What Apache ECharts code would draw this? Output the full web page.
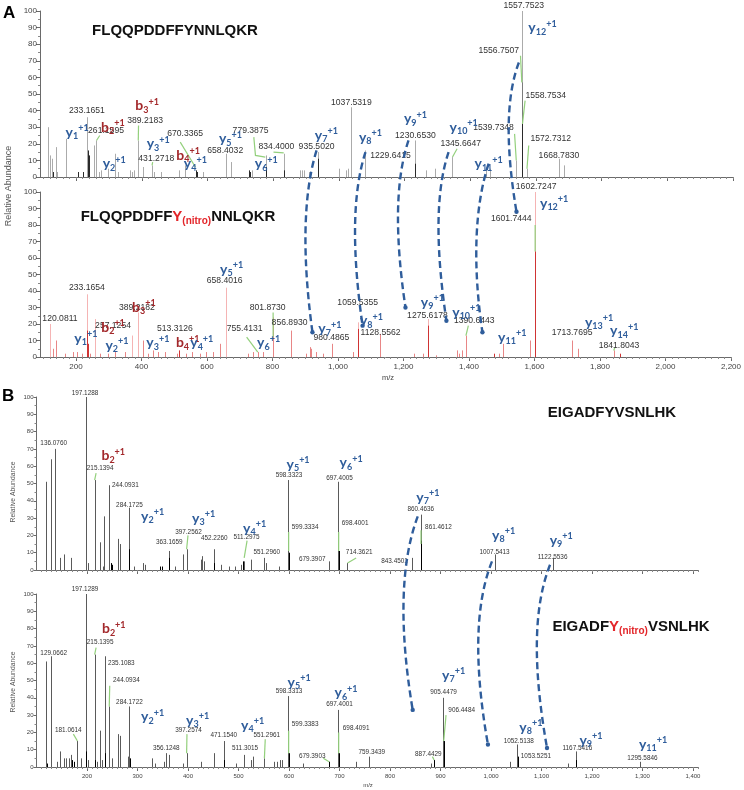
<!DOCTYPE html>
<html><head><meta charset="utf-8">
<script src="https://cdn.jsdelivr.net/npm/echarts@6/dist/echarts.min.js"></script>
<style>html,body{margin:0;padding:0;background:#fff}#c{width:744px;height:790px}</style>
</head><body><div id="c"></div>
<script>
// ---------------- tick labels ----------------
const yTicks = [0,10,20,30,40,50,60,70,80,90,100];
const aXTicks = [200,400,600,800,1000,1200,1400,1600,1800,2000,2200];
const bXTicks = [200,300,400,500,600,700,800,900,1000,1100,1200,1300,1400];
const aRange = [90, 2200];
const bRange = [100, 1410];
const aMinorStep = 20, bMinorStep = 10;

// ---------------- peaks [m/z, relative abundance] ----------------
// Panel A top: FLQQPDDFFYNNLQKR
const aTopLight = [[114,30],[121,13],[126,11],[138,18],[143,3],[170,23],[233.17,36],[253,19],[261.16,22],[270,3],[275,4],[298,5],[319,14],[327,3],[365,4],[370,3],[375,4],[389.22,22],[403,6],[431.27,7],[437,3],[457,3],[513,4],[533,7],[587,3],[655,14],[670.34,9],[727,3],[737,4],[779.39,13],[834.40,14],[883,4],[888,4],[895,4],[908,3],[935.50,15],[1000,5],[1023,4],[1028,5],[1037.53,42],[1081,16],[1230.65,22],[1266,4],[1294,5],[1345.66,12],[1447,4],[1460,5],[1539.73,10],[1557.75,100],[1572.73,5],[1668.78,11],[1686,7]];
const aTopMid = [[1556.75,57]];
const aTopDark = [[129,3],[205,3],[220,3],[236,16],[238,13],[564,4],[567,3],[725,4],[730,3],[778,6],[833,4],[935.5,11],[1230.65,8],[1558.75,32]];
// Panel A bottom: FLQQPDDFFY(nitro)NNLQKR
const aBotLight = [[120.08,20],[233.17,38],[257.13,23],[371,13],[389.22,27],[658.40,42],[1059.54,21],[1275.62,23],[1602.72,100]];
const aBotMid = [[130,5],[139,10],[166,2],[190,3],[204,3],[217,2],[243,2],[273,2],[299,2],[319,3],[350,3],[403,10],[420,2],[436,4],[451,3],[471,3],[507,2],[537,2],[553,3],[578,2],[598,3],[619,3],[639,8],[725,2],[741,3],[755.41,3],[771,3],[801.87,24],[856.89,16],[901,2],[913,6],[918,5],[932,3],[954,2],[980.49,8],[1046,3],[1128.56,14],[1231,2],[1259,2],[1299,1],[1362,4],[1370,2],[1378,4],[1390.64,13],[1491,2],[1504,8],[1585,10],[1713.77,10],[1733,5],[1841.80,4]];
const aBotDark = [[235,16],[237,8],[513.31,4],[1062,17],[1275.62,19],[1476,2],[1601.74,64],[1860,2]];
// Panel B top: EIGADFYVSNLHK
const bTopGray = [[118.6,51],[128,64],[136.08,70],[146,7],[155,9],[168,7],[197.13,100],[201,4],[215.14,52],[225,16],[231,2],[234.5,31],[244.09,49],[262,18],[266,15],[284.17,36],[294,2],[311,4],[315,3],[363.17,11],[375,2],[390,9],[397.26,12],[425,6],[428,8],[431,5],[452.23,12],[466,3],[481,2],[494,2],[504,3],[511.30,5],[524,6],[551.30,7],[555,4],[580,2],[598.33,52],[679.39,5],[697.40,51],[714.36,4],[843.45,7],[860.46,32],[1007.54,9],[1122.55,7]];
const bTopBlack = [[247,4],[250,3],[284.17,12],[345,2],[348,2],[363.17,7],[452.23,4],[509,5],[599.33,10],[698.40,11],[861.46,17]];
// Panel B bottom: EIGADFY(nitro)VSNLHK
const bBotGray = [[118.6,61],[129.07,64],[140,3],[146,9],[154,5],[158,5],[165,5],[168,7],[181.06,15],[188,5],[197.13,100],[201,4],[215.14,65],[219,3],[225,21],[229,4],[235.11,64],[244.09,35],[249,5],[262,19],[266,18],[281,6],[284.17,35],[329,5],[335,2],[352,3],[356.12,8],[362,7],[391,2],[397.26,8],[425,3],[451,8],[471.15,15],[496,2],[511.30,7],[524,4],[529,6],[551.30,5],[571,3],[576,3],[582,4],[586,4],[598.33,41],[627,2],[679.39,3],[697.40,33],[733,3],[759.34,6],[882,2],[905.45,40],[1037,3],[1052.51,13],[1152,2],[1167.54,9],[1295.58,3]];
const bBotBlack = [[121,2],[171,4],[174,3],[197.13,9],[215.14,4],[236,8],[285,5],[471.15,4],[599.34,8],[680,3],[698.41,8],[887.44,4],[906.45,15],[1053.53,6],[1168,4]];

// ---------------- mass labels [text, m/z, abundance, leader points] ----------------
const aTopMass = [
 ["233.1651",233,40],["261.1595",291,28,[[272,25],[262,22]]],["389.2183",410,34,[[390,31],[389.22,22]]],
 ["431.2718",444,11,[[433,9],[431.27,7]]],["670.3365",532,26,[[517,21],[563,6]]],["658.4032",654,16],
 ["779.3875",731,28,[[741,24],[746,13],[776,12]]],["834.4000",810,18,[[801,15],[832,14.5]]],
 ["935.5020",932,18],["1037.5319",1038,45],["1229.6415",1157,13],["1230.6530",1233,25],
 ["1345.6647",1371,20,[[1360,17],[1346,12]]],["1539.7348",1471,30,[[1535,26],[1540,10]]],
 ["1556.7507",1487,76,[[1553,73],[1557,57]]],["1557.7523",1563,103],
 ["1558.7534",1630,49,[[1567,46],[1559,32]]],["1572.7312",1645,23,[[1578,19],[1572.73,5]]],
 ["1668.7830",1670,13]
];
const aBotMass = [
 ["120.0811",151,23],["233.1654",233,42],["257.1254",313,19],["389.2182",386,30],["513.3126",502,17.5],
 ["658.4016",654,46],["755.4131",715,17.5,[[721,12],[755,3]]],["801.8730",785,30,[[801.87,27],[801.87,12]]],
 ["856.8930",852,21],["980.4865",980,11.5],["1059.5355",1060,33],["1128.5562",1130,15],
 ["1275.6178",1273,25],["1390.6443",1416,22,[[1398,19],[1390.64,13]]],
 ["1601.7444",1529,84,[[1602,80],[1602,64]]],["1602.7247",1605,103],["1713.7695",1715,15],
 ["1841.8043",1858,7,[[1845,5.5],[1841.8,4]]]
];
const bTopMass = [
 ["197.1288",196,102],["136.0760",134,73],["215.1394",226,59,[[218,56],[215.14,52]]],["244.0931",276,49],
 ["284.1725",284,37.5],["363.1659",363,16],["397.2562",401,22,[[400,20],[397.26,12]]],["452.2260",452,18.5],
 ["511.2975",516,19,[[517,17],[511.3,7]]],["551.2960",556,10],["598.3323",600,55],
 ["599.3334",632,25,[[599.33,22],[599.33,11]]],["679.3907",646,6],["697.4005",700,53],
 ["698.4001",731,27,[[698.4,22],[698.4,11]]],["714.3621",739,10,[[733,7],[716,4]]],["843.4501",809,5],
 ["860.4636",861,35],["861.4612",896,25,[[861.46,23],[861.46,15]]],["1007.5413",1007,10.5],["1122.5536",1122,7.5]
];
const bBotMass = [
 ["197.1289",196,103],["129.0662",134,66],["215.1395",226,72,[[218,69],[215.14,65]]],["235.1083",268,60],
 ["244.0934",278,50,[[245,47],[244.09,35]]],["284.1722",284,37.5],["181.0614",163,21,[[173,19],[181.06,15]]],
 ["356.1248",357,11],["397.2574",401,21,[[398,19],[397.26,8]]],["471.1540",471,18.5],["511.3015",513,11],
 ["551.2961",556,18.5,[[553,16],[551.3,5]]],["598.3313",600,44],["599.3383",632,25,[[599.34,21],[599.34,8]]],
 ["679.3903",646,6.5,[[668,5],[679.39,3]]],["697.4001",700,36],["698.4091",733,22.5,[[698.41,20],[698.41,8]]],
 ["759.3439",764,8.7],["887.4429",876,7.5,[[884,6],[887.44,4]]],["905.4479",906,43],
 ["906.4484",942,33,[[911,30],[906.45,15]]],["1052.5138",1055,15],["1053.5251",1089,6],
 ["1167.5416",1171,11],["1295.5846",1300,5]
];

// ---------------- fragment ion labels [ion type, index, m/z, abundance] ----------------
const aTopIons = [['y','1',203,27],['b','2',312,30],['b','3',416,43],['y','2',316,8],['y','3',450,20],['b','4',541,13],['y','4',563,8],['y','5',670,23],['y','6',779,8],['y','7',962,25],['y','8',1096,24],['y','9',1233,35],['y','10',1380,30],['y','11',1456,8],['y','12',1620,90]];
const aBotIons = [['y','1',230,11.5],['y','2',325,7],['y','3',450,8.5],['b','4',541,8.5],['y','4',584,8.5],['y','5',675,53],['y','6',788,8.5],['y','7',975,17],['y','8',1102,22],['y','9',1288,33],['y','10',1392,27],['y','11',1532,12],['y','12',1660,93],['y','13',1797,21],['y','14',1874,16],['b','2',313,18],['b','3',407,30]];
const bTopIons = [['b','2',252,66],['y','2',330,31],['y','3',431,30],['y','4',532,24],['y','5',618,61],['y','6',723,62],['y','7',875,42],['y','8',1025,20],['y','9',1139,17]];
const bBotIons = [['b','2',253,80],['y','2',330,29],['y','3',419,27],['y','4',528,24],['y','5',620,49],['y','6',713,43],['y','7',926,53],['y','8',1079,23],['y','9',1198,15.5],['y','11',1321,13]];

// ---------------- dashed arrows: [fromGrid, m/z, abundance, toGrid, m/z, abundance] ----------------
const arrows = [
 [0,932,16,1,922,15],[0,1081,15,1,1075,19],[0,1212,22,1,1206,30],[0,1334,15,1,1331,22],[0,1456,8,1,1441,15],[0,1548,69,1,1545,88],
 [2,855,31,3,845,33],[2,1002,5,3,994,13],[2,1117,3,3,1111,11]
];

// ---------------- styling ----------------
const BLUE = '#2f5d9b', IONRED = '#a3282b', GREEN = '#93d07c';
const NUMFONT = 'Liberation Sans', IONFONT = 'Lato';
const grids = [
 {left:40, top:11, width:693, height:166},
 {left:40, top:192, width:693, height:165},
 {left:36.5, top:397, width:661.5, height:173},
 {left:36.5, top:594, width:661.5, height:173}
];
function range(a,b,s){const r=[];for(let v=a;v<=b+1e-9;v+=s)r.push(v);return r;}
const aMinor = range(100, 2200, aMinorStep);
const bMinor = range(110, 1410, bMinorStep);

const xAxes = [], yAxes = [];
for (let g=0; g<4; g++) {
  const isA = g<2;
  const rg = isA ? aRange : bRange;
  const major = isA ? aXTicks : bXTicks;
  const showLab = (g===1 || g===3);
  xAxes.push({gridIndex:g, type:'value', position:'bottom', min:rg[0], max:rg[1],
    axisLine:{show:true, lineStyle:{color:'#6a6a6a', width:1}},
    axisTick:{show:true, customValues:major, length:4, lineStyle:{color:'#6a6a6a'}},
    axisLabel:{show:showLab, customValues:major, fontSize:isA?8:6, color:'#444', margin:isA?6:6, fontFamily:NUMFONT},
    splitLine:{show:false}});
  yAxes.push({gridIndex:g, type:'value', min:0, max:100, interval:10,
    axisLine:{show:true, lineStyle:{color:'#6a6a6a'}},
    axisTick:{show:true, length:isA?4:3, lineStyle:{color:'#6a6a6a'}},
    minorTick:{show:true, splitNumber:2, length:2, lineStyle:{color:'#888'}},
    axisLabel:{fontSize:isA?8:6, color:'#444', margin:3, fontFamily:NUMFONT},
    splitLine:{show:false}});
}
for (let g=0; g<4; g++) {
  const isA = g<2;
  const rg = isA ? aRange : bRange;
  xAxes.push({gridIndex:g, type:'value', position:'bottom', min:rg[0], max:rg[1],
    axisLine:{show:false}, axisTick:{show:true, customValues:isA?aMinor:bMinor, length:2, lineStyle:{color:'#888'}},
    axisLabel:{show:false}, splitLine:{show:false}});
}

function peakSeries(g, data, color) {
  return {type:'custom', xAxisIndex:g, yAxisIndex:g, data:data, z:2, silent:true, clip:false,
    renderItem:(p, api) => {
      const a = api.coord([api.value(0), 0]), b = api.coord([api.value(0), api.value(1)]);
      const x = Math.round(a[0]) + 0.5;
      return {type:'line', shape:{x1:x, y1:a[1], x2:x, y2:b[1]}, style:{stroke:color, lineWidth:1}};
    }};
}
function massSeries(g, arr, fs) {
  return {type:'custom', xAxisIndex:g, yAxisIndex:g, data:arr.map(d=>[d[1],d[2]]), z:6, silent:true, clip:false,
    renderItem:(p, api) => {
      const d = arr[p.dataIndex];
      const c = api.coord([d[1], d[2]]);
      const ch = [];
      if (d[3]) ch.push({type:'polyline', shape:{points:d[3].map(q=>api.coord(q))}, style:{stroke:GREEN, lineWidth:1.2, fill:null}});
      ch.push({type:'text', x:c[0], y:c[1], style:{text:d[0], fill:'#333', fontSize:fs, fontFamily:NUMFONT, align:'center', verticalAlign:'middle'}});
      return {type:'group', children:ch};
    }};
}
const ionRich = {};
[['y',BLUE],['b',IONRED]].forEach(([k,col])=>{
  ionRich[k] = {fontSize:14, fontWeight:'bold', fontFamily:IONFONT, fill:col, lineHeight:17};
  ionRich[k+'s'] = {fontSize:9, fontWeight:'bold', fontFamily:IONFONT, fill:col, lineHeight:9, verticalAlign:'bottom'};
  ionRich[k+'p'] = {fontSize:9, fontWeight:'bold', fontFamily:IONFONT, fill:col, lineHeight:9, verticalAlign:'top'};
});
function ionSeries(g, arr) {
  return {type:'custom', xAxisIndex:g, yAxisIndex:g, data:arr.map(d=>[d[2],d[3]]), z:7, silent:true, clip:false,
    renderItem:(p, api) => {
      const d = arr[p.dataIndex];
      const c = api.coord([d[2], d[3]]);
      return {type:'text', x:c[0], y:c[1], style:{text:`{${d[0]}|${d[0]}}{${d[0]}s|${d[1]}}{${d[0]}p|+1}`, rich:ionRich, align:'center', verticalAlign:'middle'}};
    }};
}

const series = [
  peakSeries(0, aTopLight, '#ababab'), peakSeries(0, aTopMid, '#7c7c7c'), peakSeries(0, aTopDark, '#2a2a2a'),
  peakSeries(1, aBotLight, '#f5b4b4'), peakSeries(1, aBotMid, '#e88686'), peakSeries(1, aBotDark, '#d03434'),
  peakSeries(2, bTopGray, '#5a5a5a'), peakSeries(2, bTopBlack, '#000000'),
  peakSeries(3, bBotGray, '#5a5a5a'), peakSeries(3, bBotBlack, '#000000'),
  massSeries(0, aTopMass, 8.6), massSeries(1, aBotMass, 8.6), massSeries(2, bTopMass, 6.4), massSeries(3, bBotMass, 6.4),
  ionSeries(0, aTopIons), ionSeries(1, aBotIons), ionSeries(2, bTopIons), ionSeries(3, bBotIons)
];

const chart = echarts.init(document.getElementById('c'));
chart.setOption({animation:false, grid:grids, xAxis:xAxes, yAxis:yAxes, series:series});

// ---------------- overlay text and arrows ----------------
const titleRich = {
  k:{fontSize:15, fontWeight:'bold', fontFamily:NUMFONT, fill:'#111', lineHeight:18},
  r:{fontSize:15, fontWeight:'bold', fontFamily:NUMFONT, fill:'#e3262a', lineHeight:18},
  n:{fontSize:10, fontWeight:'bold', fontFamily:NUMFONT, fill:'#e3262a', lineHeight:10, verticalAlign:'bottom'}
};
const els = [
  {type:'text', left:3, top:5, style:{text:'A', fontSize:17, fontWeight:'bold', fontFamily:NUMFONT, fill:'#000'}},
  {type:'text', left:2, top:388, style:{text:'B', fontSize:17, fontWeight:'bold', fontFamily:NUMFONT, fill:'#000'}},
  {type:'text', x:175, y:31, style:{text:'FLQQPDDFFYNNLQKR', fontSize:15, fontWeight:'bold', fontFamily:NUMFONT, fill:'#111', align:'center', verticalAlign:'middle'}},
  {type:'text', x:178, y:217, style:{text:'{k|FLQQPDDFF}{r|Y}{n|(nitro)}{k|NNLQKR}', rich:titleRich, align:'center', verticalAlign:'middle'}},
  {type:'text', x:612, y:413, style:{text:'EIGADFYVSNLHK', fontSize:15, fontWeight:'bold', fontFamily:NUMFONT, fill:'#111', align:'center', verticalAlign:'middle'}},
  {type:'text', x:631, y:627, style:{text:'{k|EIGADF}{r|Y}{n|(nitro)}{k|VSNLHK}', rich:titleRich, align:'center', verticalAlign:'middle'}},
  {type:'text', x:9, y:186, rotation:Math.PI/2, style:{text:'Relative Abundance', fontSize:9, fontFamily:NUMFONT, fill:'#555', align:'center', verticalAlign:'middle'}},
  {type:'text', x:13, y:492, rotation:Math.PI/2, style:{text:'Relative Abundance', fontSize:6.8, fontFamily:NUMFONT, fill:'#555', align:'center', verticalAlign:'middle'}},
  {type:'text', x:13, y:682, rotation:Math.PI/2, style:{text:'Relative Abundance', fontSize:6.8, fontFamily:NUMFONT, fill:'#555', align:'center', verticalAlign:'middle'}},
  {type:'text', x:388, y:378, style:{text:'m/z', fontSize:7.5, fontFamily:NUMFONT, fill:'#444', align:'center', verticalAlign:'middle'}},
  {type:'text', x:368, y:785, style:{text:'m/z', fontSize:6, fontFamily:NUMFONT, fill:'#444', align:'center', verticalAlign:'middle'}}
];
arrows.forEach(a => {
  const p1 = chart.convertToPixel({xAxisIndex:a[0], yAxisIndex:a[0]}, [a[1], a[2]]);
  const p2 = chart.convertToPixel({xAxisIndex:a[3], yAxisIndex:a[3]}, [a[4], a[5]]);
  const k = a[0] < 2 ? 10 : 13;
  const h = p2[1] - p1[1];
  els.push({type:'bezierCurve', z:10, shape:{x1:p1[0], y1:p1[1], x2:p2[0], y2:p2[1],
      cpx1:p1[0]-k*1.4, cpy1:p1[1]+h*0.25, cpx2:p2[0]-k, cpy2:p2[1]-h*0.4},
    style:{stroke:BLUE, lineWidth:2.4, lineDash:[7,4], fill:null}});
  els.push({type:'circle', z:10, shape:{cx:p2[0], cy:p2[1], r:2.2}, style:{fill:BLUE}});
});
chart.setOption({graphic:{elements:els}});
</script></body></html>
